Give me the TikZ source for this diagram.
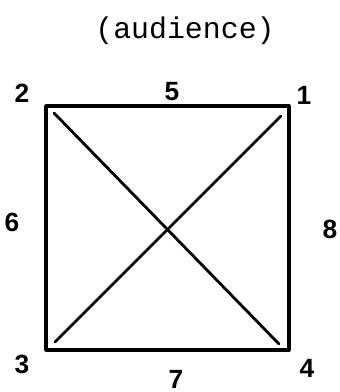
\documentclass[tikz,border=0pt]{standalone}
\usepackage{fontspec}
\newfontfamily\monofont{Liberation Mono}
\newfontfamily\digitfont{Liberation Sans}
\usetikzlibrary{positioning}

\begin{document}
\begin{tikzpicture}[
  x=0.02cm, y=-0.02cm,
  edge/.style={line width=1.8pt, line cap=round, line join=round},
  diag/.style={line width=1.6pt, line cap=round},
  num/.style={font=\digitfont\bfseries\fontsize{15}{15}\selectfont, inner sep=0pt},
]
\useasboundingbox (0,0) rectangle (339,392);
% Title
\node[font=\monofont\fontsize{17}{17}\selectfont, inner sep=0pt] (audience) at (185,31) {(audience)};
% Corners of the square
\coordinate (c1) at (289,106);
\coordinate (c2) at (46,106);
\coordinate (c3) at (46,350);
\coordinate (c4) at (289,350);
\coordinate (d2) at (54,113);
\coordinate (d4) at (279,344);
\coordinate (d3) at (55,342);
\coordinate (d1) at (281,116);
\draw[edge] (c2) -- (c1) -- (c4) -- (c3) -- cycle;
\draw[diag] (d2) -- (d4);
\draw[diag] (d3) -- (d1);
% Corner and side numbers
\node[num] (n2) at (22,93) {2};
\node[num] (n5) at (172,92) {5};
\node[num] (n1) at (304,95) {1};
\node[num] (n6) at (12,222) {6};
\node[num] (n8) at (330,229) {8};
\node[num] (n3) at (22,364) {3};
\node[num] (n7) at (176,379) {7};
\node[num] (n4) at (307,368) {4};
\end{tikzpicture}
\end{document}
